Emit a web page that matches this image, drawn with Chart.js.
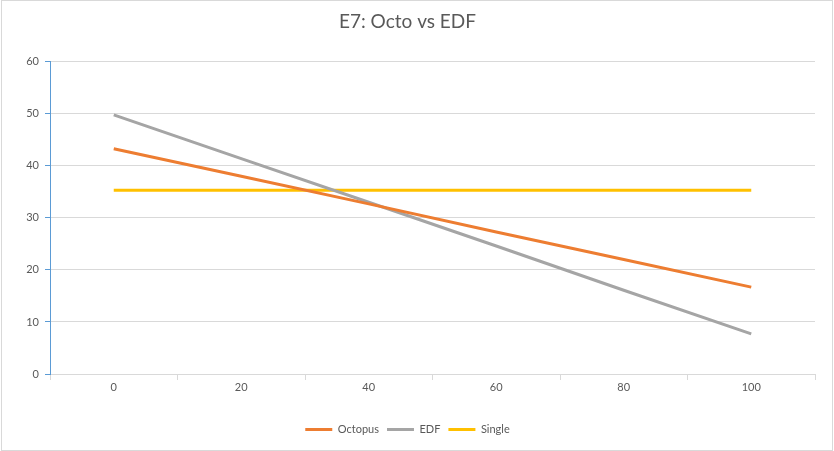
<!DOCTYPE html>
<html>
<head>
<meta charset="utf-8">
<script src="https://cdn.jsdelivr.net/npm/chart.js@4"></script>
<style>
  html, body { margin: 0; padding: 0; background: #fff; }
  #wrap { width: 834px; height: 451px; }
</style>
</head>
<body>
<div id="wrap"><canvas id="chart" width="834" height="451"></canvas></div>
<script>
// Données
const categories = ['0', '20', '40', '60', '80', '100'];
const octopus = [43.3, 38.0, 32.7, 27.3, 22.0, 16.7];
const edf = [49.8, 41.4, 33.0, 24.6, 16.1, 7.7];
const single = [35.3, 35.3, 35.3, 35.3, 35.3, 35.3];
const yTicks = [0, 10, 20, 30, 40, 50, 60];

const gris = '#595959';

// Fond blanc + bordure légère autour du graphique
const cadre = {
    id: 'cadre',
    beforeDraw(chart) {
        const ctx = chart.ctx;
        ctx.save();
        ctx.fillStyle = '#fff';
        ctx.fillRect(0, 0, chart.width, chart.height);
        ctx.strokeStyle = '#d9d9d9';
        ctx.lineWidth = 1;
        ctx.strokeRect(1.5, 0.5, chart.width - 3, chart.height - 1);
        ctx.restore();
    }
};

function serie(label, data, couleur) {
    return {
        label: label,
        data: data,
        borderColor: couleur,
        backgroundColor: couleur,
        borderWidth: 3,
        pointRadius: 0,
        pointHoverRadius: 0,
        tension: 0,
        fill: false
    };
}

const ctx = document.getElementById('chart').getContext('2d');
new Chart(ctx, {
    type: 'line',
    data: {
        labels: categories,
        datasets: [
            serie('Octopus', octopus, '#ED7D31'),
            serie('EDF', edf, '#A5A5A5'),
            serie('Single', single, '#FFC000')
        ]
    },
    options: {
        responsive: false,
        animation: false,
        layout: { padding: { left: 0, right: 19, top: 8, bottom: 6 } },
        plugins: {
            title: {
                display: true,
                text: 'E7: Octo vs EDF',
                color: gris,
                font: { family: 'Lato', size: 19, weight: 'normal' },
                padding: { top: 2, bottom: 29 }
            },
            legend: {
                position: 'bottom',
                labels: {
                    color: gris,
                    font: { family: 'Lato', size: 11 },
                    boxWidth: 27,
                    boxHeight: 3,
                    padding: 8,
                    generateLabels(chart) {
                        const items = Chart.defaults.plugins.legend.labels.generateLabels(chart);
                        items.forEach(i => { i.lineWidth = 0; });
                        return items;
                    }
                }
            },
            tooltip: { enabled: false }
        },
        scales: {
            x: {
                offset: true,
                grid: {
                    offset: true,
                    drawOnChartArea: false,
                    drawTicks: true,
                    tickLength: 6,
                    tickColor: '#d9d9d9'
                },
                border: { color: '#d9d9d9', width: 1 },
                ticks: {
                    color: gris,
                    font: { family: 'Lato', size: 11 },
                    maxRotation: 0,
                    padding: 1
                },
                afterFit(scale) { scale.height = 42; }
            },
            y: {
                min: 0,
                max: 60,
                afterBuildTicks(scale) { scale.ticks = yTicks.map(v => ({ value: v })); },
                grid: {
                    color: '#d9d9d9',
                    drawTicks: true,
                    tickLength: 5,
                    tickColor: '#5B9BD5'
                },
                border: { color: '#5B9BD5', width: 1 },
                ticks: {
                    color: gris,
                    font: { family: 'Lato', size: 11 },
                    padding: 6
                },
                afterFit(scale) { scale.width = 50; }
            }
        }
    },
    plugins: [cadre]
});
</script>
</body>
</html>
